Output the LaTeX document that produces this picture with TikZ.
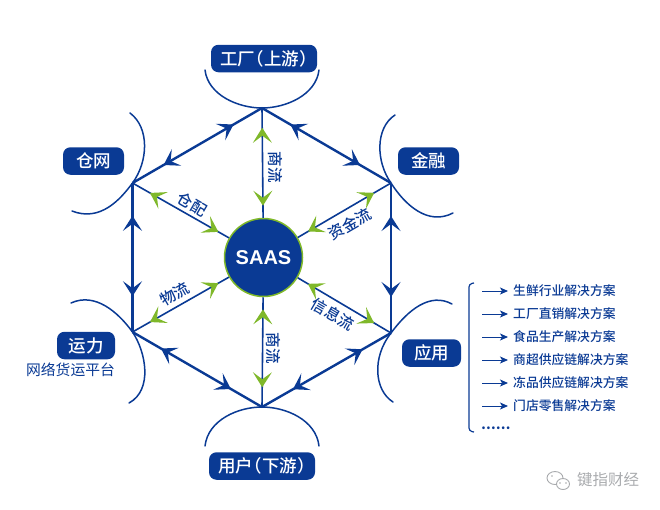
\documentclass[tikz,border=0pt]{standalone}
\usepackage{fontspec}
\setmainfont{Noto Sans CJK SC}
\newfontfamily\cjkmed{Noto Sans CJK SC Medium}[RawFeature=+halt]
\newfontfamily\latinbold{Liberation Sans}
\usetikzlibrary{arrows.meta,decorations.markings}
\definecolor{navy}{HTML}{0A3A94}
\definecolor{leaf}{HTML}{7FB82A}
\definecolor{ash}{HTML}{A9ABAE}
\tikzset{
  x=1pt,y=-1pt,
  bt/.tip={Stealth[length=15pt,width=19pt,inset=7pt,color=navy]},
  gt/.tip={Stealth[length=15pt,width=19pt,inset=7pt,color=leaf]},
  rim/.style={draw=navy,line width=2.4pt,postaction={decorate},decoration={markings,
     mark=at position .22 with {\arrowreversed{bt}},
     mark=at position .76 with {\arrow{bt}}}},
  spoke/.style={draw=navy,line width=1.6pt,postaction={decorate},decoration={markings,
     mark=at position .11 with {\arrowreversed{gt}},
     mark=at position .82 with {\arrow{gt}}}},
  bowl/.style={draw=navy,line width=1.5pt,line cap=round},
  tag/.style={fill=navy,rounded corners=7.5pt,text=white,font=\cjkmed\fontsize{17.5}{18}\selectfont,
     minimum height=27.5pt,inner sep=0pt,anchor=center},
  flow/.style={text=navy,font=\cjkmed\fontsize{15.5}{16}\selectfont,inner sep=0pt},
  item/.style={text=navy,font=\cjkmed\fontsize{12.8}{13}\selectfont,inner sep=0pt,anchor=west},
  lead/.style={draw=navy,line width=1pt,-{Stealth[length=8pt,width=7pt,inset=2pt]},shorten >=5pt},
}
\begin{document}
\begin{tikzpicture}
\useasboundingbox (0,0) rectangle (660,509);
\coordinate (vT) at (262,108);
\coordinate (vUL) at (132.5,183);
\coordinate (vUR) at (391,183);
\coordinate (vLL) at (132.5,332);
\coordinate (vLR) at (391,333);
\coordinate (vB) at (262,407);
% bowls
\draw[bowl] (205,70) .. controls (208,95) and (238,108) .. (vT) .. controls (286,108) and (316,95) .. (319,70);
\draw[bowl] (205,446) .. controls (208,420) and (238,407) .. (vB) .. controls (286,407) and (316,420) .. (319,446);
\draw[bowl] (130,113) .. controls (150,128) and (148,162) .. (vUL) .. controls (120,200) and (100,222) .. (72,211);
\draw[bowl] (395,115) .. controls (375,128) and (376,162) .. (vUR) .. controls (405,205) and (428,226) .. (453,213);
\draw[bowl] (71,303) .. controls (95,292) and (118,312) .. (vLL) .. controls (146,352) and (153,390) .. (129,403);
\draw[bowl] (452,304) .. controls (430,292) and (408,310) .. (vLR) .. controls (372,357) and (374,390) .. (393,402);
% hub
\node[circle,fill=navy,draw=leaf,line width=1.5pt,minimum size=78pt,inner sep=0pt,text=white,
  font=\latinbold\bfseries\fontsize{20}{20}\selectfont] (hub) at (263.5,257.5) {SAAS};
% rim
\path[rim] (vT) -- (vUL);
\path[rim] (vT) -- (vUR);
\path[rim] (vUL) -- (vLL);
\path[rim] (vUR) -- (vLR);
\path[rim] (vLL) -- (vB);
\path[rim] (vLR) -- (vB);
% spokes
\path[spoke] (hub) -- (vT);
\path[spoke] (hub) -- (vUL);
\path[spoke] (hub) -- (vUR);
\path[spoke] (hub) -- (vLL);
\path[spoke] (hub) -- (vLR);
\path[spoke] (hub) -- (vB);
% tags
\node[tag,minimum width=106pt] (factory) at (264,58.5) {工厂（上游）};
\node[tag,minimum width=106pt] (user) at (262,466) {用户（下游）};
\node[tag,minimum width=61pt] (store) at (93.5,161) {仓网};
\node[tag,minimum width=61pt] (fin) at (428.5,161) {金融};
\node[tag,minimum width=58pt] (cap) at (86,345.5) {运力};
\node[tag,minimum width=59pt] (app) at (431.5,353) {应用};
\node[text=navy,font=\fontsize{14.8}{15}\selectfont,inner sep=0pt] (plat) at (70.5,370) {网络货运平台};
% flow labels
\node[flow,rotate=-90] (f1) at (275,167) {商流};
\node[flow,rotate=-90] (f2) at (273,348) {商流};
\node[flow,rotate=-30] (f3) at (192,204) {仓配};
\node[flow,rotate=30] (f4) at (350,224) {资金流};
\node[flow,rotate=30] (f5) at (175,294) {物流};
\node[flow,rotate=-30] (f6) at (333,314) {信息流};
% list
\draw[draw=navy,line width=1.2pt,rounded corners=3pt] (474,283) -- (469,284) -- (469,431) -- (474,432);
\foreach \n/\y/\t in {1/291/生鲜行业解决方案,2/314/工厂直销解决方案,3/337/食品生产解决方案,4/360/商超供应链解决方案,5/383/冻品供应链解决方案,6/406/门店零售解决方案}{
  \coordinate (a\n) at (482,\y);
  \node[item] (t\n) at (513,\y) {\t};
  \draw[lead] (a\n) -- (t\n.west);
}
\node[item,font=\bfseries\fontsize{13}{13}\selectfont] (more) at (481,428) {……};
% watermark
\draw[ash,line width=.9pt,fill=white] (555,478) ellipse [x radius=8pt,y radius=6.5pt];
\draw[ash,line width=.9pt,fill=white] (563,484) ellipse [x radius=6.5pt,y radius=5.5pt];
\fill[ash] (560,483) circle (.9pt) (566,483) circle (.9pt) (552,476) circle (.9pt);
\node[text=ash,font=\fontsize{15.5}{16}\selectfont,inner sep=0pt] (mark) at (608,480) {键指财经};
\end{tikzpicture}
\end{document}
